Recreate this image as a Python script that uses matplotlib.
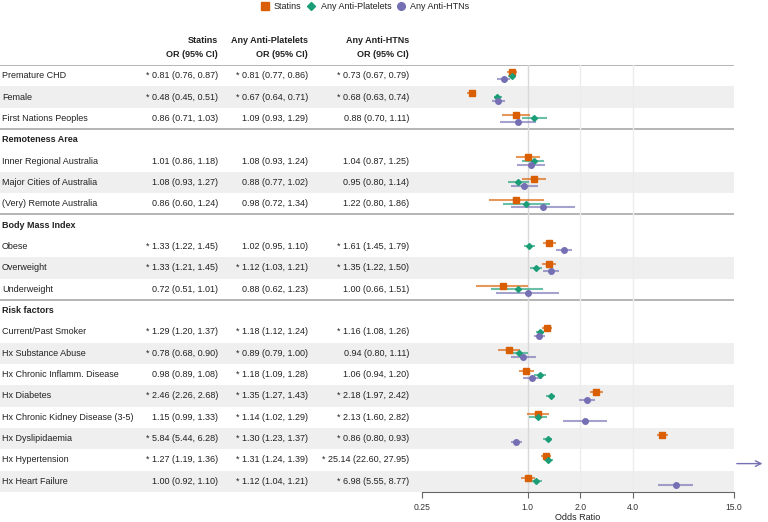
import matplotlib.pyplot as plt
from matplotlib.lines import Line2D
import numpy as np

plt.rcParams['font.family'] = ['Liberation Sans', 'DejaVu Sans']

# groups: (header, row labels)
groups = [
    ('', ['Premature CHD', 'Female', 'First Nations Peoples']),
    ('Remoteness Area', ['Inner Regional Australia', 'Major Cities of Australia',
                         '(Very) Remote Australia']),
    ('Body Mass Index', ['Obese', 'Overweight', 'Underweight']),
    ('Risk factors', ['Current/Past Smoker', 'Hx Substance Abuse', 'Hx Chronic Inflamm. Disease',
                      'Hx Diabetes', 'Hx Chronic Kidney Disease (3-5)', 'Hx Dyslipidaemia',
                      'Hx Hypertension', 'Hx Heart Failure']),
]

series = ['Statins', 'Any Anti-Platelets', 'Any Anti-HTNs']

statins_or = [0.81, 0.48, 0.86, 1.01, 1.08, 0.86, 1.33, 1.33, 0.72, 1.29, 0.78, 0.98, 2.46, 1.15, 5.84, 1.27, 1.00]
statins_lo = [0.76, 0.45, 0.71, 0.86, 0.93, 0.60, 1.22, 1.21, 0.51, 1.20, 0.68, 0.89, 2.26, 0.99, 5.44, 1.19, 0.92]
statins_hi = [0.87, 0.51, 1.03, 1.18, 1.27, 1.24, 1.45, 1.45, 1.01, 1.37, 0.90, 1.08, 2.68, 1.33, 6.28, 1.36, 1.10]
statins_sig = [1, 1, 0, 0, 0, 0, 1, 1, 0, 1, 1, 0, 1, 0, 1, 1, 0]

plat_or = [0.81, 0.67, 1.09, 1.08, 0.88, 0.98, 1.02, 1.12, 0.88, 1.18, 0.89, 1.18, 1.35, 1.14, 1.30, 1.31, 1.12]
plat_lo = [0.77, 0.64, 0.93, 0.93, 0.77, 0.72, 0.95, 1.03, 0.62, 1.12, 0.79, 1.09, 1.27, 1.02, 1.23, 1.24, 1.04]
plat_hi = [0.86, 0.71, 1.29, 1.24, 1.02, 1.34, 1.10, 1.21, 1.23, 1.24, 1.00, 1.28, 1.43, 1.29, 1.37, 1.39, 1.21]
plat_sig = [1, 1, 0, 0, 0, 0, 0, 1, 0, 1, 1, 1, 1, 1, 1, 1, 1]

htn_or = [0.73, 0.68, 0.88, 1.04, 0.95, 1.22, 1.61, 1.35, 1.00, 1.16, 0.94, 1.06, 2.18, 2.13, 0.86, 25.14, 6.98]
htn_lo = [0.67, 0.63, 0.70, 0.87, 0.80, 0.80, 1.45, 1.22, 0.66, 1.08, 0.80, 0.94, 1.97, 1.60, 0.80, 22.60, 5.55]
htn_hi = [0.79, 0.74, 1.11, 1.25, 1.14, 1.86, 1.79, 1.50, 1.51, 1.26, 1.11, 1.20, 2.42, 2.82, 0.93, 27.95, 8.77]
htn_sig = [1, 1, 0, 0, 0, 0, 1, 1, 0, 1, 0, 0, 1, 1, 1, 1, 1]

xticks = [0.25, 1.0, 2.0, 4.0, 15.0]
xticklabels = ['0.25', '1.0', '2.0', '4.0', '15.0']

colors = ['#d95f02', '#1b9e77', '#7570b3']
markers = ['s', 'D', 'o']
msizes = [4.0, 3.0, 4.0]
offsets = [-0.17, 0.0, 0.17]
col_x = [218, 308, 409]
FS = 6.5
TXT = '#222222'

data = [(statins_or, statins_lo, statins_hi, statins_sig),
        (plat_or, plat_lo, plat_hi, plat_sig),
        (htn_or, htn_lo, htn_hi, htn_sig)]

# layout of rows
row_y, labels, striped, headers, seps = [], [], [], [], []
y = 0
for gi, (name, rows) in enumerate(groups):
    if name:
        headers.append((name, y))
        y += 1
    for i, lab in enumerate(rows):
        row_y.append(y)
        labels.append(lab)
        striped.append(i % 2 == 1)
        y += 1
    if gi < len(groups) - 1:
        seps.append(y - 0.5)
row_y = np.array(row_y, dtype=float)

fig = plt.figure(figsize=(7.68, 5.22), dpi=100)
bot, hgt = 30 / 522, 427 / 522
ax_bg = fig.add_axes([0, bot, 734 / 768, hgt])
ax_bg.set_xlim(0, 734)
ax_bg.set_ylim(19.5, -0.5)
ax_bg.axis('off')

ax = fig.add_axes([422 / 768, bot, 312 / 768, hgt])
ax.set_xscale('log')
ax.set_xlim(0.25, 15)
ax.set_ylim(19.5, -0.5)
ax.patch.set_alpha(0)

# stripes and separators
for yy, s in zip(row_y, striped):
    if s:
        ax_bg.axhspan(yy - 0.5, yy + 0.5, color='#efefef', lw=0, zorder=0)
for yy in seps:
    ax_bg.axhline(yy, color='#a8a8a8', lw=1.2, zorder=1)
ax_bg.axhline(-0.5, color='#a8a8a8', lw=1.2, zorder=1)

# table text
for lab, yy in zip(labels, row_y):
    ax_bg.text(2, yy, lab, ha='left', va='center', fontsize=FS, color=TXT)
for name, yy in headers:
    ax_bg.text(2, yy, name, ha='left', va='center', fontsize=FS, color=TXT, fontweight='bold')
for k, (orv, lo, hi, sig) in enumerate(data):
    ax_bg.text(col_x[k], -1.64, series[k], ha='right', va='center', fontsize=FS,
               color=TXT, fontweight='bold')
    ax_bg.text(col_x[k], -0.98, 'OR (95% CI)', ha='right', va='center', fontsize=FS,
               color=TXT, fontweight='bold')
    for j, yy in enumerate(row_y):
        s = '{}{:.2f} ({:.2f}, {:.2f})'.format('* ' if sig[j] else '', orv[j], lo[j], hi[j])
        ax_bg.text(col_x[k], yy, s, ha='right', va='center', fontsize=FS, color=TXT)

# gridlines
ax.axvline(1.0, color='#d8d8d8', lw=1, zorder=0)
for g in [2.0, 4.0]:
    ax.axvline(g, color='#ececec', lw=1, zorder=0)

# forest marks
xmax = ax.get_xlim()[1]
for k, (orv, lo, hi, sig) in enumerate(data):
    orv, lo, hi = np.array(orv), np.array(lo), np.array(hi)
    yy = row_y + offsets[k]
    ax.hlines(yy, lo, hi, color=colors[k], alpha=0.65, lw=1.5, zorder=2)
    ax.plot(orv, yy, ls='none', marker=markers[k], ms=msizes[k], color=colors[k], zorder=3)
    for j in np.where(lo > xmax)[0]:
        ax.annotate('', xy=(lo[j], yy[j]), xytext=(xmax, yy[j]),
                    arrowprops=dict(arrowstyle='->', color=colors[k], lw=1),
                    annotation_clip=False)

for sp in ['left', 'top', 'right']:
    ax.spines[sp].set_visible(False)
ax.spines['bottom'].set_color('#666666')
ax.set_yticks([])
ax.set_xticks(xticks)
ax.set_xticklabels(xticklabels)
ax.minorticks_off()
ax.tick_params(axis='x', length=4, color='#666666', labelsize=6.2, labelcolor='#333333', pad=4)
ax.set_xlabel('Odds Ratio', fontsize=6.5, color=TXT, labelpad=1)

handles = [Line2D([], [], ls='none', marker=markers[k], ms=msizes[k] + 1.5, color=colors[k])
           for k in range(3)]
fig.legend(handles, series, loc='upper center', bbox_to_anchor=(0.475, 1.012), ncol=3,
           frameon=False, fontsize=FS, handletextpad=0.5, columnspacing=0.6,
           handlelength=1.0, labelcolor=TXT)

fig.savefig('out.png', dpi=100)
